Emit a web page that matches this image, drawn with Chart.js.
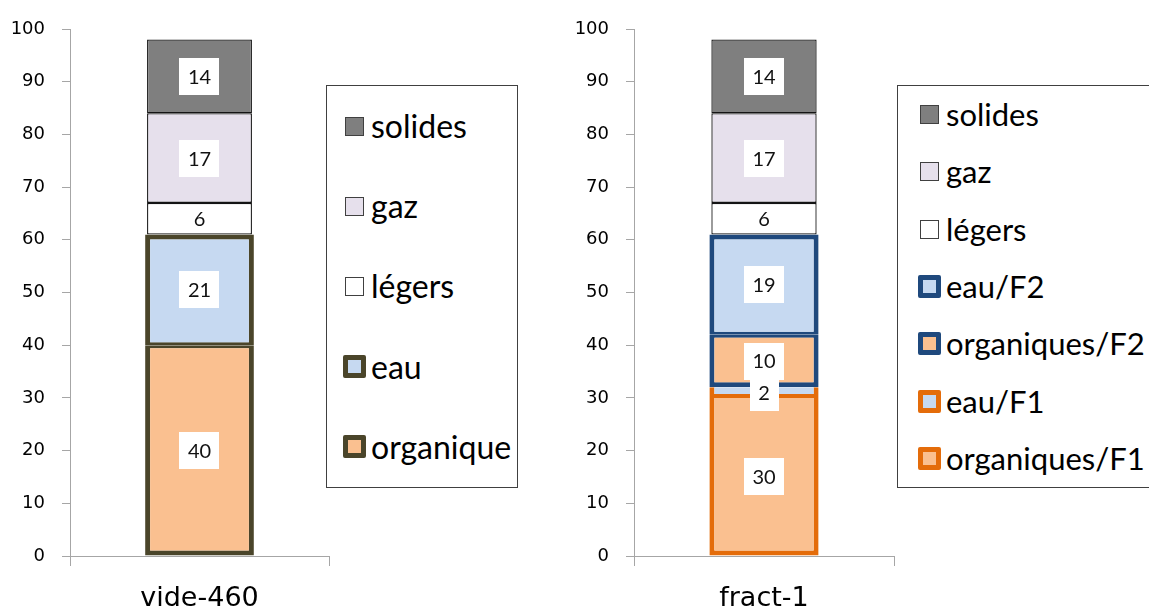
<!DOCTYPE html>
<html lang="fr">
<head>
<meta charset="utf-8">
<title>Bilans matière : vide-460 / fract-1</title>
<script src="https://cdn.jsdelivr.net/npm/chart.js@4.4.1/dist/chart.umd.min.js"></script>
<style>
  html, body { margin: 0; padding: 0; background: #fff; overflow: hidden; }
  #page { position: relative; width: 1149px; height: 612px; }
  .chart-box { position: absolute; top: 0; height: 612px; }
  #left-box { left: 0; width: 330px; }
  #right-box { left: 560px; width: 337px; }
  .legend {
    position: absolute; top: 85px; height: 403px; box-sizing: border-box;
    border: 1px solid #404040; background: #fff;
    font-family: Lato, "Open Sans", sans-serif; color: #000;
    display: flex; flex-direction: column; justify-content: space-around;
  }
  #left-legend { left: 326px; width: 192px; padding-left: 15px; font-size: 32px; }
  #right-legend { left: 897px; width: 280px; padding-left: 19px; font-size: 31px; }
  .legend .item { display: flex; align-items: center; line-height: 1; }
  .legend .cell { width: 24px; height: 24px; display: flex; align-items: center; justify-content: center; margin-right: 5px; }
  .legend .swatch { box-sizing: border-box; width: 19px; height: 19px; border: 1px solid #404040; }
  .legend .swatch.thick { width: 23px; height: 23px; border-width: 5px; border-radius: 2px; }
</style>
</head>
<body>
<div id="page">
  <div class="chart-box" id="left-box"><canvas id="left-chart"></canvas></div>
  <div class="chart-box" id="right-box"><canvas id="right-chart"></canvas></div>
  <div class="legend" id="left-legend"></div>
  <div class="legend" id="right-legend"></div>
</div>

<script>
// Values, bottom of the stack first
const leftCategories = ['vide-460'];
const leftSeries = ['organique', 'eau', 'légers', 'gaz', 'solides'];
const leftValues = [40, 21, 6, 17, 14];

const rightCategories = ['fract-1'];
const rightSeries = ['organiques/F1', 'eau/F1', 'organiques/F2', 'eau/F2', 'légers', 'gaz', 'solides'];
const rightValues = [30, 2, 10, 19, 6, 17, 14];

const yMin = 0;
const yMax = 100;
const yStep = 10;

// Colours
const AXIS = '#a6a6a6';
const EDGE = '#141414';
const OLIVE = '#4a452a';
const NAVY = '#1f497d';
const ORANGE = '#e46c0a';
const ORGA_FILL = '#fac090';
const EAU_FILL = '#c6d9f1';

const thin = (fill) => ({
  backgroundColor: fill, borderColor: EDGE, borderWidth: 1.3, barPercentage: 0.405
});
const framed = (fill, edge, widths) => ({
  backgroundColor: fill, borderColor: edge, borderWidth: widths, barPercentage: 0.42, thick: true
});

const commonStyles = {
  'légers': Object.assign(thin('#ffffff'), { labelBox: false }),
  'gaz': thin('#e6e0ec'),
  'solides': thin('#7f7f7f')
};

const leftStyles = Object.assign({
  'organique': framed(ORGA_FILL, OLIVE, { top: 3, right: 5, bottom: 5, left: 5 }),
  'eau': framed(EAU_FILL, OLIVE, { top: 5, right: 5, bottom: 3, left: 5 })
}, commonStyles);

const rightStyles = Object.assign({
  'organiques/F1': framed(ORGA_FILL, ORANGE, { top: 0, right: 5, bottom: 5, left: 5 }),
  'eau/F1': framed(EAU_FILL, ORANGE, { top: 0, right: 5, bottom: 4, left: 5 }),
  'organiques/F2': framed(ORGA_FILL, NAVY, { top: 3, right: 5, bottom: 5, left: 5 }),
  'eau/F2': framed(EAU_FILL, NAVY, { top: 5, right: 5, bottom: 3, left: 5 })
}, commonStyles);

Chart.defaults.font.family = '"DejaVu Sans", Verdana, sans-serif';
Chart.defaults.color = '#000';

// White boxed value in the middle of every segment
const valueBoxes = {
  id: 'valueBoxes',
  afterDatasetsDraw(chart) {
    const ctx = chart.ctx;
    ctx.save();
    ctx.font = '20px Lato, "Open Sans", sans-serif';
    ctx.textAlign = 'center';
    ctx.textBaseline = 'middle';
    chart.data.datasets.forEach((ds, i) => {
      chart.getDatasetMeta(i).data.forEach((bar, j) => {
        const text = String(ds.data[j]);
        const x = bar.x;
        const y = (bar.y + bar.base) / 2;
        if (ds.labelBox !== false) {
          const w = ctx.measureText(text).width + 17;
          const h = 37;
          ctx.fillStyle = '#ffffff';
          ctx.fillRect(Math.round(x - w / 2), Math.round(y - h / 2), Math.round(w), h);
        }
        ctx.fillStyle = '#111';
        ctx.fillText(text, x, y + 1);
      });
    });
    ctx.restore();
  }
};

// Legend written as html next to the canvas, top of the stack first
const htmlLegend = {
  id: 'htmlLegend',
  afterUpdate(chart, args, opts) {
    const box = document.getElementById(opts.containerID);
    box.innerHTML = '';
    chart.data.datasets.slice().reverse().forEach(ds => {
      const item = document.createElement('div');
      item.className = 'item';
      const cell = document.createElement('span');
      cell.className = 'cell';
      const swatch = document.createElement('span');
      swatch.className = ds.thick ? 'swatch thick' : 'swatch';
      swatch.style.background = ds.backgroundColor;
      if (ds.thick) swatch.style.borderColor = ds.borderColor;
      cell.appendChild(swatch);
      const label = document.createElement('span');
      label.textContent = ds.label;
      item.appendChild(cell);
      item.appendChild(label);
      box.appendChild(item);
    });
  }
};

function buildChart(canvasId, legendId, categories, series, values, styles, axisWidth, rightPad) {
  return new Chart(document.getElementById(canvasId), {
    type: 'bar',
    data: {
      labels: categories,
      datasets: series.map((name, i) => Object.assign({
        label: name,
        data: [values[i]],
        borderSkipped: false,
        categoryPercentage: 1
      }, styles[name]))
    },
    options: {
      responsive: true,
      maintainAspectRatio: false,
      animation: false,
      events: [],
      layout: { padding: { top: 29, right: rightPad, bottom: 0, left: 0 } },
      plugins: {
        legend: { display: false },
        tooltip: { enabled: false },
        htmlLegend: { containerID: legendId }
      },
      scales: {
        x: {
          stacked: true,
          afterFit: (scale) => { scale.height = 56; },
          grid: { drawOnChartArea: false, tickLength: 10, color: AXIS },
          border: { color: AXIS },
          ticks: { font: { size: 27 }, padding: 17, maxRotation: 0 }
        },
        y: {
          stacked: true,
          min: yMin,
          max: yMax,
          afterFit: (scale) => { scale.width = axisWidth; },
          grid: { drawOnChartArea: false, tickLength: 8, color: AXIS },
          border: { color: AXIS },
          ticks: { stepSize: yStep, font: { size: 18 }, padding: 17 }
        }
      }
    },
    plugins: [valueBoxes, htmlLegend]
  });
}

buildChart('left-chart', 'left-legend', leftCategories, leftSeries, leftValues, leftStyles, 70, 1);
buildChart('right-chart', 'right-legend', rightCategories, rightSeries, rightValues, rightStyles, 74, 3);
</script>
</body>
</html>
